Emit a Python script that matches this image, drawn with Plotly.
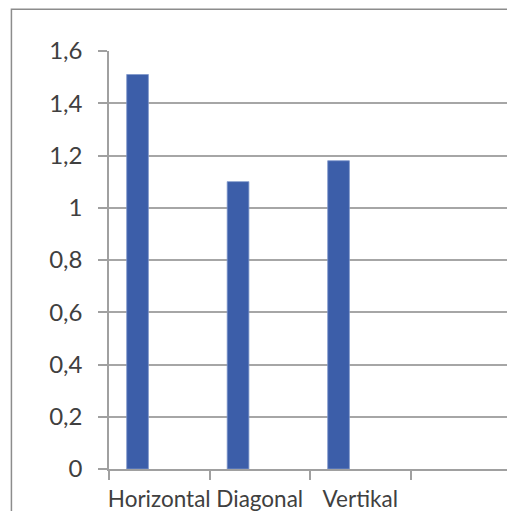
import plotly.graph_objects as go

categories = ["Horizontal", "Diagonal", "Vertikal", " "]
values = [1.51, 1.10, 1.18, None]
y_ticks = [0, 0.2, 0.4, 0.6, 0.8, 1.0, 1.2, 1.4, 1.6]
y_tick_labels = ["0", "0,2", "0,4", "0,6", "0,8", "1", "1,2", "1,4", "1,6"]

fig = go.Figure()
fig.add_trace(go.Bar(
    x=categories, y=values,
    width=0.216, offset=-0.324,
    marker=dict(color="#3C5EA9", line=dict(color="#7F97CB", width=0.8)),
))

# page has an 8px body margin; figure sized to fit the 515x521 window
W, H = 505, 503
left, right, top, bottom = 101, 2.3, 42.7, 42
fig.update_layout(
    width=W, height=H,
    margin=dict(l=left, r=right, t=top, b=bottom, autoexpand=False),
    paper_bgcolor="white", plot_bgcolor="white",
    showlegend=False,
    font=dict(family="Lato", size=23, color="#404040"),
)
fig.update_xaxes(
    type="category", range=[-0.5, 3.5], automargin=False,
    showgrid=False, showline=True, linecolor="#A0A0A0", linewidth=1.5,
    ticks="outside", ticklen=9, tickcolor="#A0A0A0", tickwidth=1.5,
    tickson="boundaries", tickangle=0,
    ticklabelstandoff=9,
    tickfont=dict(size=22.5),
)
fig.update_yaxes(
    range=[0, 1.6], tickvals=y_ticks, ticktext=y_tick_labels, automargin=False,
    showgrid=True, gridcolor="#A6A6A6", gridwidth=1.5,
    showline=True, linecolor="#A0A0A0", linewidth=1.5,
    ticks="outside", ticklen=9, tickcolor="#A0A0A0", tickwidth=1.5,
    ticklabelstandoff=11,
    zeroline=False,
    tickfont=dict(size=24),
)

pw = W - left - right
ph = H - top - bottom
x0 = (3.5 - left) / pw
y1 = 1 + (top - 0.8) / ph
fig.add_shape(type="rect", xref="paper", yref="paper",
              x0=x0, x1=1.2, y0=-0.5, y1=y1,
              line=dict(color="#8C8C8C", width=1.5), layer="below")

fig.write_html("out.html")
